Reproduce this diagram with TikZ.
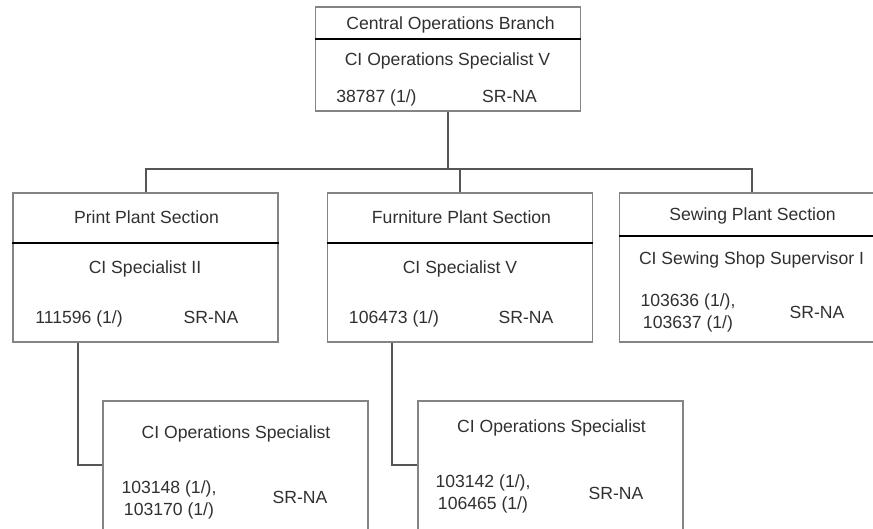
\documentclass[tikz,border=0pt]{standalone}
\usepackage{fontspec}
\setmainfont{Liberation Sans}
\definecolor{OrgFrame}{HTML}{848484}
\definecolor{OrgLink}{HTML}{555555}
\definecolor{OrgText}{HTML}{303030}

\begin{document}
\begin{tikzpicture}[x=1pt, y=-1pt,
  unit/.style={draw=OrgFrame, line width=1.5pt, minimum width=265pt, inner sep=0pt},
  label/.style={font=\fontsize{17.6}{22}\selectfont, text=OrgText, inner sep=0pt, align=center, anchor=base},
  link/.style={draw=OrgLink, line width=2pt},
  divide/.style={draw=black, line width=2pt}]
  \useasboundingbox (0,0) rectangle (873,528);
  % boxes
  \node[unit, minimum height=104pt] (central) at (448,59) {};
  \node[unit, minimum height=149pt] (print) at (145.5,267.5) {};
  \node[unit, minimum height=149pt] (furniture) at (460,267.5) {};
  \node[unit, minimum height=149pt] (sewing) at (752,267.5) {};
  \node[unit, minimum height=149pt] (opsA) at (235.5,475.5) {};
  \node[unit, minimum height=149pt] (opsB) at (550.5,475.5) {};
  % header rules
  \draw[divide] (central.west |- 0,39) -- (central.east |- 0,39);
  \draw[divide] (print.west |- 0,243) -- (print.east |- 0,243);
  \draw[divide] (furniture.west |- 0,243) -- (furniture.east |- 0,243);
  \draw[divide] (sewing.west |- 0,236) -- (sewing.east |- 0,236);
  % texts
  \node[label] (central-title) at (450.5,29.3) {Central Operations Branch};
  \node[label] (central-role) at (447.5,65.3) {CI Operations Specialist V};
  \node[label] (central-num) at (376.5,102.3) {38787 (1/)};
  \node[label] (central-grade) at (509.5,102.3) {SR-NA};
  \node[label] (print-title) at (146.5,223.3) {Print Plant Section};
  \node[label] (print-role) at (145,273.3) {CI Specialist II};
  \node[label] (print-num) at (79,323.3) {111596 (1/)};
  \node[label] (print-grade) at (211,323.3) {SR-NA};
  \node[label] (furniture-title) at (461.5,223.3) {Furniture Plant Section};
  \node[label] (furniture-role) at (460,273.3) {CI Specialist V};
  \node[label] (furniture-num) at (394,323.3) {106473 (1/)};
  \node[label] (furniture-grade) at (526,323.3) {SR-NA};
  \node[label] (sewing-title) at (752.5,220.3) {Sewing Plant Section};
  \node[label] (sewing-role) at (751.5,264.3) {CI Sewing Shop Supervisor I};
  \node[label, anchor=center] (sewing-num) at (688,312.8) {103636 (1/),\\103637 (1/)};
  \node[label] (sewing-grade) at (817,318.3) {SR-NA};
  \node[label] (opsA-title) at (236,438.3) {CI Operations Specialist};
  \node[label, anchor=center] (opsA-num) at (169,499.8) {103148 (1/),\\103170 (1/)};
  \node[label] (opsA-grade) at (300,503.3) {SR-NA};
  \node[label] (opsB-title) at (551.5,432.3) {CI Operations Specialist};
  \node[label, anchor=center] (opsB-num) at (483,493.8) {103142 (1/),\\106465 (1/)};
  \node[label] (opsB-grade) at (616,499.3) {SR-NA};
  % connectors
  \coordinate (bus) at (0,169);
  \draw[link] (central.south) -- (central.south |- bus);
  \draw[link] (print.north) -- (print.north |- bus) -- (sewing.north |- bus) -- (sewing.north);
  \draw[link] (furniture.north) -- (furniture.north |- bus);
  \draw[link] ([xshift=66pt]print.south west) |- ([yshift=10.5pt]opsA.west);
  \draw[link] ([xshift=65pt]furniture.south west) |- ([yshift=10.5pt]opsB.west);
\end{tikzpicture}
\end{document}
